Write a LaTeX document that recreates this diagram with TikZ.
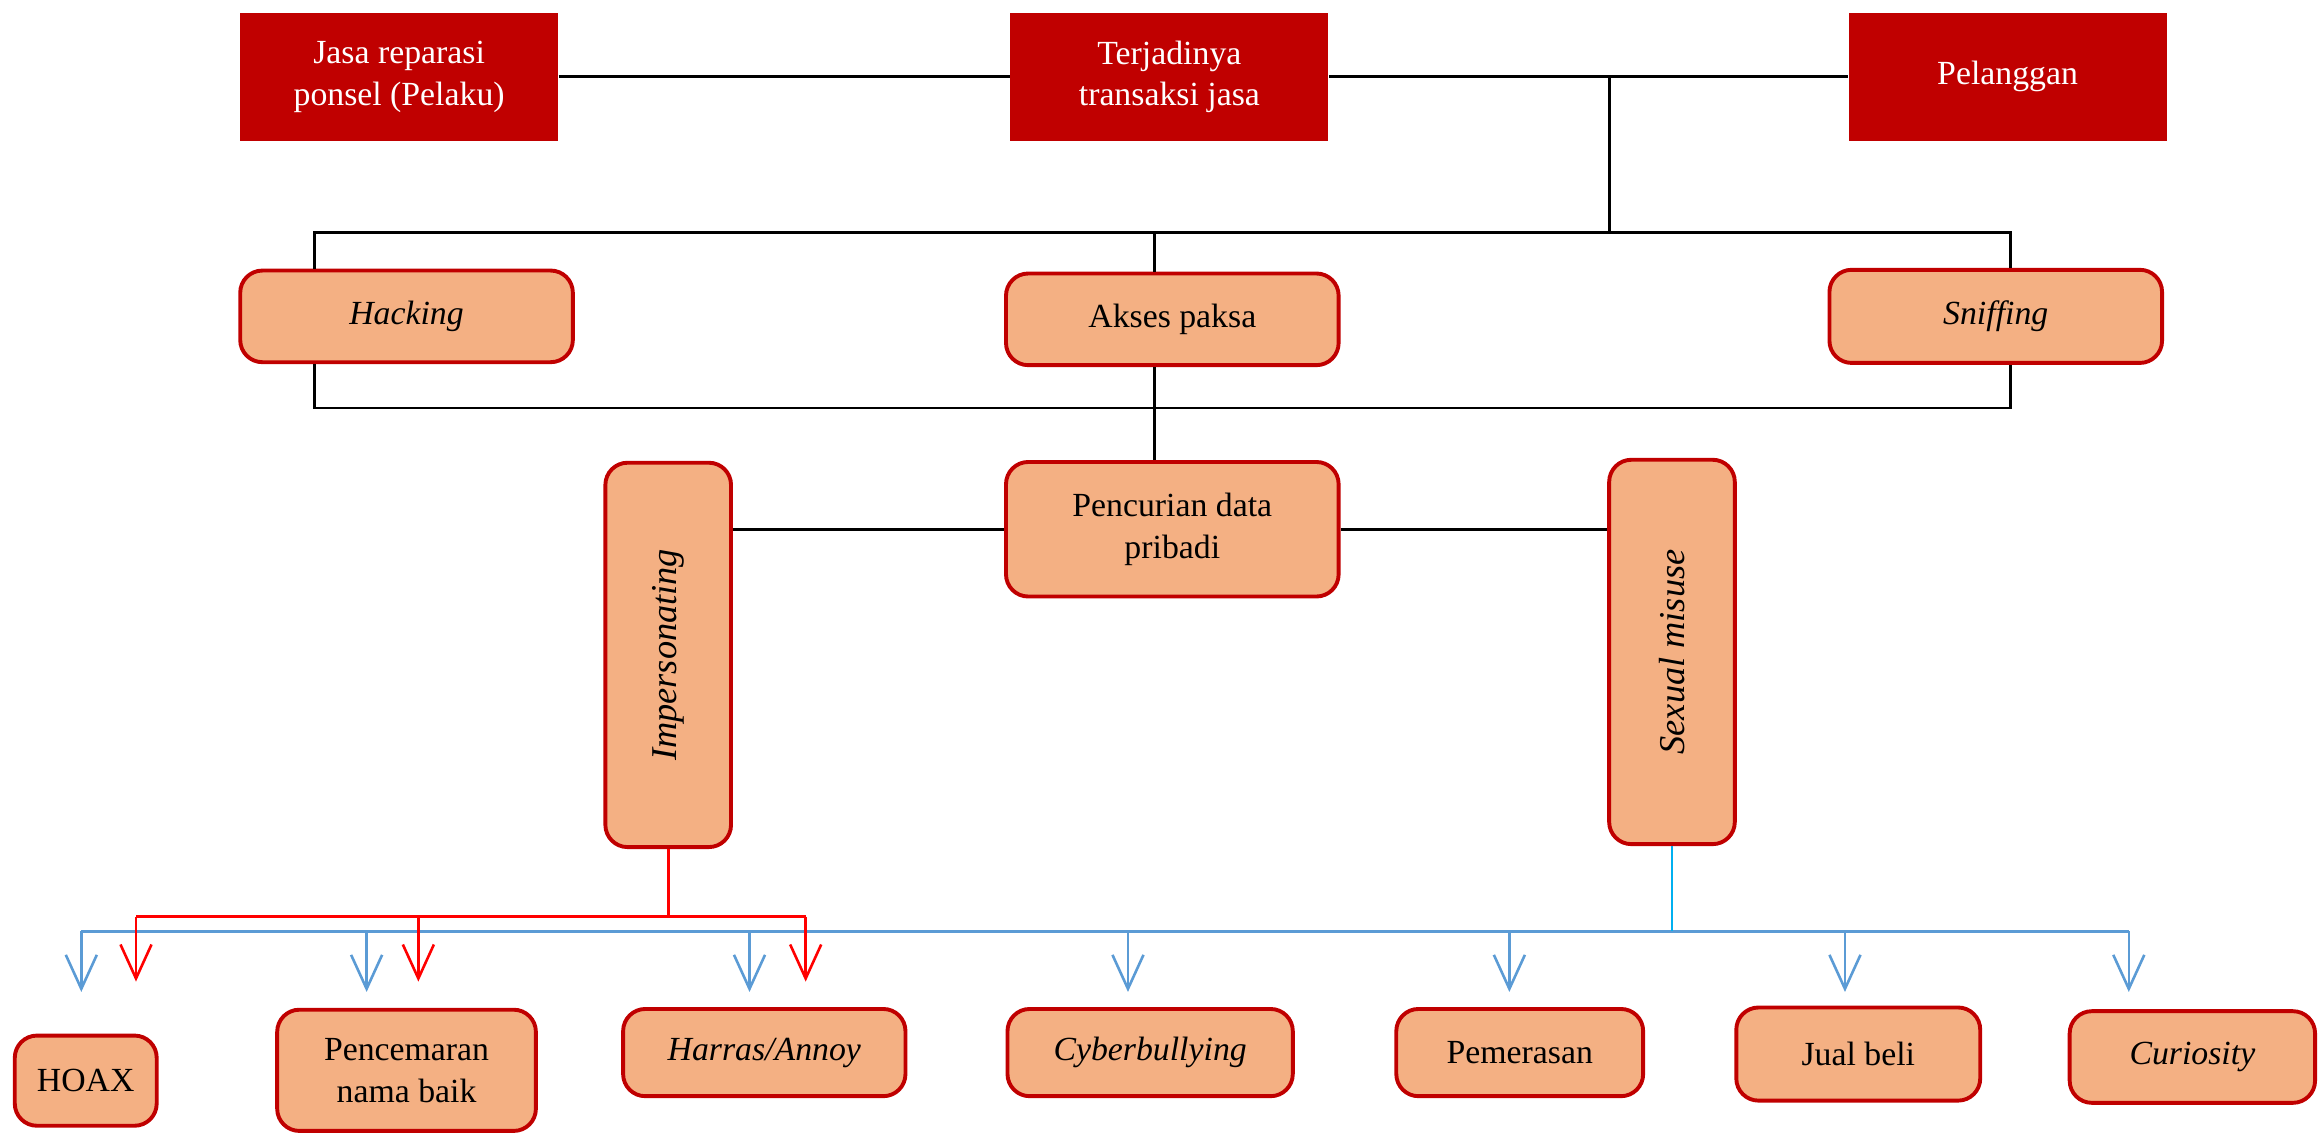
\documentclass[tikz,border=0pt]{standalone}
\usepackage{fontspec}
\setmainfont{Liberation Serif}
\usetikzlibrary{arrows.meta}
\usetikzlibrary{positioning}
\usetikzlibrary{calc}

\definecolor{darkred}{RGB}{192,0,0}
\definecolor{peach}{RGB}{244,176,131}
\definecolor{linkblue}{RGB}{91,155,213}
\definecolor{skyblue}{RGB}{0,176,240}

\tikzset{
  actor/.style={fill=darkred, text=white, align=center, minimum width=4.3cm, minimum height=1.74cm, font=\fontsize{13}{16}\selectfont},
  crime/.style={draw=darkred, line width=1.5pt, fill=peach, rounded corners=0.3cm, align=center, font=\fontsize{13}{16}\selectfont},
  tall/.style={crime, minimum width=1.7cm, minimum height=5.2cm, font=\itshape\fontsize{14}{16}\selectfont},
  link/.style={line width=1.1pt},
  barb/.style={-{Straight Barb[length=0.46cm,width=0.42cm]}, line width=1pt},
}

\begin{document}
\begin{tikzpicture}
\useasboundingbox (0,0) rectangle (31.36,-15.32);
% pelaku, transaksi, pelanggan
\node[actor] (jasa) at (5.4,-1.04) {Jasa reparasi\\ponsel (Pelaku)};
\node[actor] (terjadi) at (15.82,-1.04) {Terjadinya\\transaksi jasa};
\node[actor] (pelanggan) at (27.16,-1.04) {Pelanggan};
\draw[link] (jasa) -- (terjadi);
\draw[link] (terjadi) -- (pelanggan);

% cara
\node[crime, minimum width=4.5cm, minimum height=1.24cm] (hacking) at (5.5,-4.28) {\itshape Hacking};
\node[crime, minimum width=4.5cm, minimum height=1.24cm] (akses) at (15.86,-4.32) {Akses paksa};
\node[crime, minimum width=4.5cm, minimum height=1.26cm] (sniffing) at (27.0,-4.28) {\itshape Sniffing};
\coordinate (drop) at (21.78,-1.04);
\coordinate (tl) at (4.26,-3.14);
\coordinate (tr) at (27.2,-3.14);
\coordinate (tm) at (15.62,-3.14);
\coordinate (bl) at (4.26,-5.52);
\coordinate (br) at (27.2,-5.52);
\draw[link] (drop) -- (drop |- tl);
\draw[link] (hacking.north -| tl) -- (tl) -- (tr) -- (sniffing.north -| tr);
\draw[link] (akses.north -| tm) -- (tm);
\draw[link] (hacking.south -| bl) -- (bl) -- (br) -- (sniffing.south -| br);

% pencurian data
\node[crime, minimum width=4.5cm, minimum height=1.82cm] (pencurian) at (15.86,-7.16) {Pencurian data\\pribadi};
\node[tall] (imp) at (9.04,-8.86) {\rotatebox{90}{Impersonating}};
\node[tall] (sexual) at (22.62,-8.82) {\rotatebox{90}{Sexual misuse}};
\draw[link] (akses.south -| tm) -- (pencurian.north -| tm);
\draw[link] (imp.east |- pencurian.west) -- (pencurian.west);
\draw[link] (pencurian.east) -- (pencurian.east -| sexual.west);

% dampak
\node[crime, minimum width=1.92cm, minimum height=1.22cm] (hoax) at (1.16,-14.62) {HOAX};
\node[crime, minimum width=3.5cm, minimum height=1.64cm] (cemar) at (5.5,-14.48) {Pencemaran\\nama baik};
\node[crime, minimum width=3.82cm, minimum height=1.18cm] (harras) at (10.34,-14.24) {\itshape Harras/Annoy};
\node[crime, minimum width=3.86cm, minimum height=1.18cm] (cyber) at (15.56,-14.24) {\itshape Cyberbullying};
\node[crime, minimum width=3.34cm, minimum height=1.18cm] (peras) at (20.56,-14.24) {Pemerasan};
\node[crime, minimum width=3.3cm, minimum height=1.26cm] (jual) at (25.14,-14.26) {Jual beli};
\node[crime, minimum width=3.32cm, minimum height=1.24cm] (curious) at (29.66,-14.3) {\itshape Curiosity};

\foreach \n/\x in {a/1.1,b/4.96,c/10.14,d/15.26,e/20.42,f/24.96,g/28.8} {
  \coordinate (blue\n) at (\x,-12.6);
  \coordinate (bluetip\n) at (\x,-13.42);
  \draw[barb, linkblue] (blue\n) -- (bluetip\n);
}
\draw[linkblue, line width=1pt] (bluea) -- (blueg);
\draw[skyblue, line width=1pt] (sexual.south) -- (sexual.south |- bluea);

\foreach \n/\x in {a/1.84,b/5.66,c/10.9} {
  \coordinate (red\n) at (\x,-12.4);
  \coordinate (redtip\n) at (\x,-13.28);
  \draw[barb, red] (red\n) -- (redtip\n);
}
\draw[red, line width=1pt] (reda) -- (redc);
\draw[red, line width=1pt] (imp.south) -- (imp.south |- reda);
\end{tikzpicture}
\end{document}
